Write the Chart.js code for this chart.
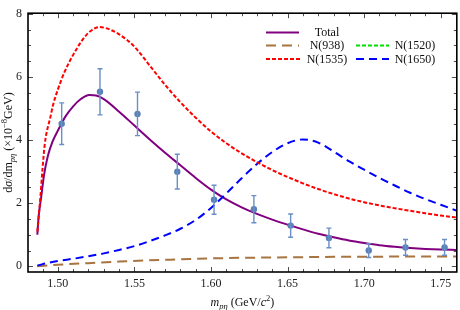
<!DOCTYPE html>
<html><head><meta charset="utf-8">
<script src="https://cdn.jsdelivr.net/npm/chart.js@4/dist/chart.umd.min.js"></script>
<style>html,body{margin:0;padding:0;background:#fff}#wrap{width:460px;height:310px;position:relative}</style>
</head><body><div id="wrap"><canvas id="c"></canvas></div>
<script>
// ---- data ----
const expM   = [1.5025,1.5275,1.552,1.578,1.602,1.628,1.652,1.677,1.703,1.727,1.7525];
const expV   = [4.52,5.53,4.83,3.00,2.11,1.81,1.29,0.90,0.50,0.60,0.60];
const expErr = [0.66,0.73,0.69,0.55,0.46,0.43,0.37,0.31,0.22,0.25,0.25];

const totalM = [1.4866,1.4875,1.489,1.491,1.4935,1.4965,1.5,1.505,1.51,1.515,1.5205,1.525,1.53,1.54,1.55,1.56,1.57,1.58,1.59,1.6,1.61,1.62,1.63,1.64,1.65,1.66,1.67,1.68,1.69,1.7,1.71,1.72,1.73,1.74,1.75,1.76];
const totalV = [1.0,1.6,2.15,2.9,3.5,3.95,4.3,4.75,5.07,5.3,5.43,5.41,5.3,4.9,4.46,4.02,3.6,3.2,2.8,2.43,2.12,1.87,1.66,1.48,1.32,1.17,1.03,0.92,0.82,0.74,0.67,0.62,0.58,0.55,0.53,0.52];

const n1535M = [1.4866,1.4875,1.4885,1.49,1.4914,1.4925,1.495,1.4968,1.5,1.5043,1.51,1.515,1.52,1.527,1.535,1.545,1.552,1.56,1.57,1.58,1.59,1.6,1.61,1.62,1.63,1.64,1.65,1.66,1.67,1.68,1.69,1.7,1.71,1.72,1.73,1.74,1.75,1.76];
const n1535V = [1.1,1.6,2.14,3.1,3.85,4.2,4.7,5.1,5.6,6.15,6.7,7.1,7.4,7.58,7.48,7.18,6.85,6.36,5.75,5.2,4.71,4.27,3.9,3.58,3.3,3.05,2.83,2.63,2.45,2.29,2.15,2.03,1.93,1.84,1.76,1.68,1.61,1.55];

const n1650M = [1.4866,1.49,1.50,1.51,1.52,1.53,1.54,1.55,1.56,1.57,1.58,1.59,1.60,1.61,1.62,1.63,1.64,1.65,1.66,1.67,1.68,1.69,1.70,1.71,1.72,1.73,1.74,1.75,1.76];
const n1650V = [0.02,0.07,0.17,0.24,0.32,0.41,0.52,0.64,0.8,0.98,1.19,1.47,1.85,2.31,2.79,3.24,3.62,3.9,4.02,3.92,3.64,3.33,3.06,2.8,2.56,2.33,2.13,1.95,1.77];

const n938M = [1.4866,1.50,1.52,1.54,1.56,1.58,1.60,1.62,1.64,1.66,1.68,1.70,1.72,1.74,1.76];
const n938V = [0.0,0.05,0.1,0.15,0.19,0.22,0.25,0.27,0.28,0.29,0.30,0.30,0.31,0.31,0.31];

const n1520M = [];
const n1520V = [];

const xTicks = [1.50,1.55,1.60,1.65,1.70,1.75];
const yTicks = [0,2,4,6,8];
const legendNames = ['Total','N(938)','N(1520)','N(1535)','N(1650)'];

// ---- build ----
const pts = (xs, ys) => xs.map((x,i)=>({x, y: ys[i]}));
const SERIF = "'Liberation Serif','DejaVu Serif',serif";

const C = {
  total: '#800080', n938: '#a8743f', n1520: '#00e000', n1535: '#ff0000', n1650: '#0000ff', exp: '#5b80b8'
};
const D = { total: [], n938: [10,6], n1520: [4,2], n1535: [4,2], n1650: [8,5] };

function lineDs(label, data, color, dash, order){
  return { type:'line', label, data, borderColor: color, backgroundColor: color, borderDash: dash,
    borderWidth: 2, pointRadius: 0, fill: false, cubicInterpolationMode: 'monotone', order };
}

const datasets = [
  { type:'scatter', label:'exp', data: pts(expM, expV), backgroundColor: C.exp, borderWidth: 0,
    pointRadius: 3.2, pointHoverRadius: 3.2, showLine: false, order: 0 },
  lineDs(legendNames[3], pts(n1535M, n1535V), C.n1535, D.n1535, 1),
  lineDs(legendNames[4], pts(n1650M, n1650V), C.n1650, D.n1650, 2),
  lineDs(legendNames[2], pts(n1520M, n1520V), C.n1520, D.n1520, 3),
  lineDs(legendNames[1], pts(n938M, n938V), C.n938, D.n938, 4),
  lineDs(legendNames[0], pts(totalM, totalV), C.total, D.total, 5),
];

function drawRuns(ctx, runs, x, y){
  let w = 0;
  runs.forEach(r => { ctx.font = r.f; r.w = ctx.measureText(r.t).width; w += r.w; });
  let cx = x - w/2;
  ctx.textAlign = 'left'; ctx.textBaseline = 'alphabetic';
  runs.forEach(r => { ctx.font = r.f; ctx.fillText(r.t, cx, y + (r.dy||0)); cx += r.w; });
}

const decor = {
  id: 'decor',
  afterDatasetsDraw(chart){
    const ctx = chart.ctx, xs = chart.scales.x, ys = chart.scales.y;
    ctx.save();
    ctx.strokeStyle = '#6a8fc4'; ctx.lineWidth = 1.4;
    expM.forEach((m,i)=>{
      const px = xs.getPixelForValue(m);
      const y1 = ys.getPixelForValue(expV[i]+expErr[i]);
      const y2 = ys.getPixelForValue(expV[i]-expErr[i]);
      ctx.beginPath();
      ctx.moveTo(px,y1); ctx.lineTo(px,y2);
      ctx.moveTo(px-2.5,y1); ctx.lineTo(px+2.5,y1);
      ctx.moveTo(px-2.5,y2); ctx.lineTo(px+2.5,y2);
      ctx.stroke();
    });
    ctx.restore();
  },
  afterDraw(chart){
    const ctx = chart.ctx, a = chart.chartArea, xs = chart.scales.x, ys = chart.scales.y;
    ctx.save();
    ctx.strokeStyle = '#222'; ctx.lineWidth = 0.8;
    ctx.beginPath();
    for (let k = 149; k <= 176; k++){
      const v = k/100; const px = Math.round(xs.getPixelForValue(v))+0.5;
      if (px < a.left || px > a.right) continue;
      const len = (k % 5 === 0) ? 5 : 3;
      ctx.moveTo(px, a.bottom); ctx.lineTo(px, a.bottom - len);
      ctx.moveTo(px, a.top); ctx.lineTo(px, a.top + len);
    }
    for (let k = 0; k <= 16; k++){
      const v = k/2; const py = Math.round(ys.getPixelForValue(v))+0.5;
      if (py < a.top-0.1 || py > a.bottom) continue;
      const len = (k % 4 === 0) ? 5 : 3;
      ctx.moveTo(a.left, py); ctx.lineTo(a.left + len, py);
      ctx.moveTo(a.right, py); ctx.lineTo(a.right - len, py);
    }
    ctx.stroke();
    ctx.strokeStyle = '#000'; ctx.lineWidth = 1.6;
    ctx.strokeRect(a.left, a.top, a.right - a.left, a.bottom - a.top);

    ctx.fillStyle = '#111';
    const N = '12px ' + SERIF, I = 'italic 12px ' + SERIF, S = 'italic 8.5px ' + SERIF, SN = '8.5px ' + SERIF;
    drawRuns(ctx, [
      {t:'m', f:I}, {t:'p\u03b7', f:S, dy:3}, {t:' (GeV/', f:N}, {t:'c', f:I}, {t:'2', f:SN, dy:-5}, {t:')', f:N}
    ], (a.left + a.right)/2, 306);
    ctx.save();
    ctx.translate(12, (a.top + a.bottom)/2);
    ctx.rotate(-Math.PI/2);
    drawRuns(ctx, [
      {t:'d', f:N}, {t:'\u03c3', f:I}, {t:'/dm', f:N}, {t:'p\u03b7', f:S, dy:3},
      {t:' (\u00d710', f:N}, {t:'\u22128', f:SN, dy:-5}, {t:'GeV)', f:N}
    ], 0, 0);
    ctx.restore();

    ctx.font = N; ctx.textAlign = 'center'; ctx.textBaseline = 'middle'; ctx.fillStyle = '#111';
    const items = [
      {name: legendNames[0], c: C.total, d: D.total, x0: 266, x1: 299, tx: 327, y: 32.5},
      {name: legendNames[1], c: C.n938, d: D.n938, x0: 266, x1: 299, tx: 327, y: 45.5},
      {name: legendNames[2], c: C.n1520, d: D.n1520, x0: 356, x1: 389, tx: 415, y: 45.5},
      {name: legendNames[3], c: C.n1535, d: D.n1535, x0: 266, x1: 300, tx: 327, y: 59},
      {name: legendNames[4], c: C.n1650, d: D.n1650, x0: 356, x1: 389, tx: 415, y: 59},
    ];
    items.forEach(it => {
      ctx.save();
      ctx.strokeStyle = it.c; ctx.lineWidth = 2; ctx.setLineDash(it.d);
      ctx.beginPath(); ctx.moveTo(it.x0, it.y); ctx.lineTo(it.x1, it.y); ctx.stroke();
      ctx.restore();
      ctx.fillText(it.name, it.tx, it.y + 0.5);
    });
    ctx.restore();
  }
};

new Chart(document.getElementById('c'), {
  data: { datasets },
  options: {
    responsive: true, maintainAspectRatio: false, animation: false,
    layout: { padding: { left: 0, right: 1, top: 7, bottom: 0 } },
    plugins: { legend: { display: false }, tooltip: { enabled: false } },
    scales: {
      x: {
        type: 'linear', min: 1.4805, max: 1.7605,
        grid: { display: false, drawTicks: false }, border: { display: false },
        afterBuildTicks: s => { s.ticks = xTicks.map(v => ({ value: v })); },
        afterFit: s => { s.height = 38; },
        ticks: { padding: 5, color: '#222', font: { family: SERIF, size: 12 }, maxRotation: 0,
          callback: v => Number(v).toFixed(2) }
      },
      y: {
        type: 'linear', min: -0.18, max: 8.02,
        grid: { display: false, drawTicks: false }, border: { display: false },
        afterBuildTicks: s => { s.ticks = yTicks.map(v => ({ value: v })); },
        afterFit: s => { s.width = 28; },
        ticks: { padding: 6, color: '#222', font: { family: SERIF, size: 12 },
          callback: v => String(v) }
      }
    }
  },
  plugins: [decor]
});
</script>
</body></html>
